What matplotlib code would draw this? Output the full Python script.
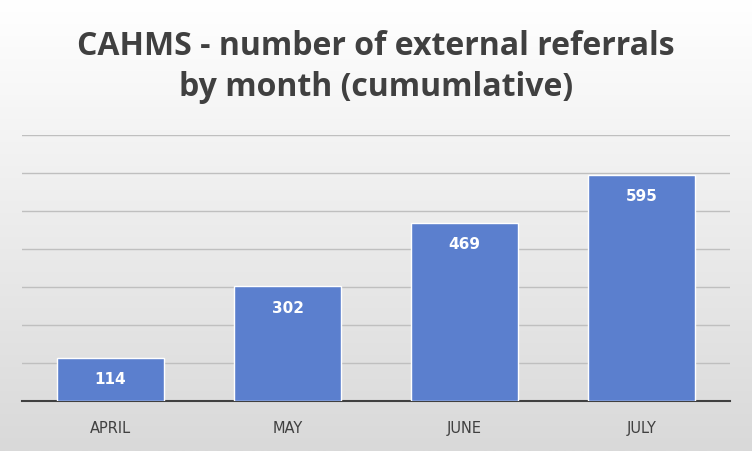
import matplotlib
matplotlib.use("Agg")
import matplotlib.pyplot as plt
import numpy as np

months = ["APRIL", "MAY", "JUNE", "JULY"]
referrals = [114, 302, 469, 595]

fig = plt.figure(figsize=(7.52, 4.52), dpi=100)
bg = fig.add_axes([0, 0, 1, 1], zorder=-10)
grad = np.linspace(1.0, 0.0, 256).reshape(-1, 1)
bg.imshow(grad, aspect="auto", cmap=matplotlib.colors.LinearSegmentedColormap.from_list("g", ["#d9d9d9", "#ffffff"]),
          extent=[0, 1, 0, 1])
bg.axis("off")

ax = fig.add_axes([22/752, (452-402)/452, (730-22)/752, (402-136)/452])
ax.patch.set_alpha(0)
x = np.arange(len(months))
ax.bar(x, referrals, width=0.6, color="#5b7fce", edgecolor="white", linewidth=1, zorder=3)
for xi, v in zip(x, referrals):
    ax.text(xi, v - 55, str(v), ha="center", va="center", color="white", fontsize=11, fontweight="bold", zorder=4)
ax.set_ylim(0, 700)
ax.set_xlim(-0.5, 3.5)
ax.set_yticks(np.arange(0, 701, 100))
ax.yaxis.grid(True, color="#bfbfbf", linewidth=1, zorder=0)
ax.tick_params(axis="y", left=False, labelleft=False)
ax.tick_params(axis="x", length=0, pad=14, labelsize=10.5, labelcolor="#404040")
ax.set_xticks(x)
ax.set_xticklabels(months)
for s in ["top", "right", "left"]:
    ax.spines[s].set_visible(False)
ax.spines["bottom"].set_color("#404040")
ax.spines["bottom"].set_linewidth(1.5)

fig.text(0.5, 0.852, "CAHMS - number of external referrals\nby month (cumumlative)", ha="center", va="center",
         fontsize=23, fontweight="bold", color="#404040", linespacing=1.3, family="Open Sans")
fig.savefig("out.png", dpi=100)
